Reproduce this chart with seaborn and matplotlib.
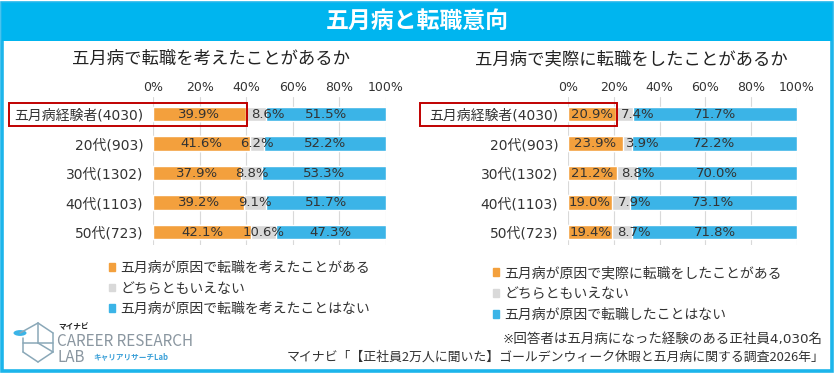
import numpy as np
import pandas as pd
import matplotlib.pyplot as plt
import seaborn as sns
from matplotlib.patches import Rectangle, Circle
from matplotlib.lines import Line2D

# ---- data ----
groups = ["五月病経験者(4030)", "20代(903)", "30代(1302)", "40代(1103)", "50代(723)"]

left_title = "五月病で転職を考えたことがあるか"
left_yes = [39.9, 41.6, 37.9, 39.2, 42.1]
left_mid = [8.6, 6.2, 8.8, 9.1, 10.6]
left_no = [51.5, 52.2, 53.3, 51.7, 47.3]
left_legend = ["五月病が原因で転職を考えたことがある", "どちらともいえない", "五月病が原因で転職を考えたことはない"]

right_title = "五月病で実際に転職をしたことがあるか"
right_yes = [20.9, 23.9, 21.2, 19.0, 19.4]
right_mid = [7.4, 3.9, 8.8, 7.9, 8.7]
right_no = [71.7, 72.2, 70.0, 73.1, 71.8]
right_legend = ["五月病が原因で実際に転職をしたことがある", "どちらともいえない", "五月病が原因で転職したことはない"]

ticks = [0, 20, 40, 60, 80, 100]
tick_labels = [f"{t}%" for t in ticks]

main_title = "五月病と転職意向"
note1 = "※回答者は五月病になった経験のある正社員4,030名"
note2 = "マイナビ「【正社員2万人に聞いた】ゴールデンウィーク休暇と五月病に関する調査2026年」"

ORANGE = "#F3A03D"
GRAY = "#D9D9D9"
BLUE = "#3BB4E7"
CYAN = "#00B5EF"
TXT = "#333333"

sns.set_style("white")
# wide latin digits like the original, CJK from Noto
plt.rcParams["font.family"] = ["DejaVu Sans", "Noto Sans CJK JP"]
CJK = ["Noto Sans CJK JP", "DejaVu Sans"]

W, H = 834, 375
fig = plt.figure(figsize=(W / 100, H / 100), dpi=100)


def fx(x):
    return x / W


def fy(y):
    return 1 - y / H


# frame and title band
fig.patches.append(Rectangle((fx(2), fy(371)), fx(830), 368 / H, transform=fig.transFigure,
                             fill=False, edgecolor="#1CB5EB", lw=2.6))
fig.patches.append(Rectangle((fx(2), fy(41)), fx(830), 38 / H, transform=fig.transFigure,
                             facecolor=CYAN, edgecolor="none"))
fig.text(0.5, fy(21), main_title, color="white", fontsize=16.5, fontweight="bold",
         ha="center", va="center", family=CJK)


def draw(rect, title, title_x, yes, mid, no, legend_labels, leg_pos, leg_space,
         mid_shift, box_left):
    ax = fig.add_axes(rect)
    df = pd.DataFrame({"group": groups, "yes": yes, "mid": mid, "no": no})
    df["c1"] = df["yes"]
    df["c2"] = df["yes"] + df["mid"]
    df["c3"] = df["c2"] + df["no"]
    sns.barplot(data=df, x="c3", y="group", color=BLUE, orient="h", width=0.5,
                saturation=1, ax=ax, zorder=2)
    sns.barplot(data=df, x="c2", y="group", color=GRAY, orient="h", width=0.5,
                saturation=1, ax=ax, zorder=2)
    sns.barplot(data=df, x="c1", y="group", color=ORANGE, orient="h", width=0.5,
                saturation=1, ax=ax, zorder=2)
    ax.set_xlim(0, 100)
    ax.set_ylim(4.44, -0.58)
    ax.set_xlabel("")
    ax.set_ylabel("")
    ax.set_xticks(ticks)
    ax.set_xticklabels(tick_labels)
    ax.xaxis.tick_top()
    ax.tick_params(axis="x", length=0, pad=2, labelsize=9, colors=TXT)
    ax.tick_params(axis="y", length=0, pad=7, labelsize=10, colors=TXT)
    ax.grid(axis="x", color="#D9D9D9", lw=0.8, zorder=0)
    for s in ax.spines.values():
        s.set_visible(False)
    for i, r in df.iterrows():
        ax.text(r["yes"] / 2, i, f"{r['yes']:.1f}%", ha="center", va="center",
                fontsize=9.5, color=TXT, zorder=3)
        ax.text(r["c1"] + r["mid"] / 2 + mid_shift[i], i, f"{r['mid']:.1f}%", ha="center",
                va="center", fontsize=9.5, color=TXT, zorder=3)
        ax.text(r["c2"] + r["no"] / 2, i, f"{r['no']:.1f}%", ha="center", va="center",
                fontsize=9.5, color=TXT, zorder=3)
    # red highlight box around the first row
    ax.add_patch(Rectangle((box_left, -0.39), df["yes"][0] + 0.4 - box_left, 0.78,
                           fill=False, edgecolor="#C00000", lw=1.4, clip_on=False, zorder=4))
    fig.text(title_x, fy(59), title, fontsize=12.5, color="#222222", ha="center",
             va="center", family=CJK)
    handles = [Rectangle((0, 0), 1, 1, color=c) for c in (ORANGE, GRAY, BLUE)]
    fig.legend(handles, legend_labels, loc="upper left", bbox_to_anchor=leg_pos,
               frameon=False, handlelength=0.45, handleheight=0.45,
               handletextpad=0.35, labelspacing=leg_space, borderpad=0, borderaxespad=0,
               labelcolor=TXT, prop={"family": CJK, "size": 10})
    return ax


draw([fx(153), fy(245), fx(233), 148 / H], left_title, fx(211),
     left_yes, left_mid, left_no, left_legend, (fx(109), fy(261)), 0.47,
     [5, 0, 0, 0, 0], -62)
draw([fx(568), fy(245), fx(229), 148 / H], right_title, fx(631),
     right_yes, right_mid, right_no, right_legend, (fx(493), fy(266)), 0.5,
     [6, 7, 5, 6, 5], -64.5)

fig.text(fx(823), fy(339), note1, fontsize=9.7, color=TXT, ha="right", va="center")
fig.text(fx(825), fy(357), note2, fontsize=9.3, color=TXT, ha="right", va="center",
         family=CJK)

# logo
fig.patches.append(Circle((fx(20), fy(333)), 6.5 / W, transform=fig.transFigure,
                          facecolor=BLUE, edgecolor="none"))
pts = [(20, 333, 38, 323), (38, 323, 53, 333), (53, 333, 53, 352), (53, 352, 38, 362),
       (38, 362, 23, 352), (23, 352, 23, 338), (38, 323, 38, 343), (23, 343, 53, 343),
       (38, 343, 53, 352)]
for x0, y0, x1, y1 in pts:
    fig.lines.append(Line2D([fx(x0), fx(x1)], [fy(y0), fy(y1)], transform=fig.transFigure,
                            color="#8AA8B8", lw=1.1))
fig.text(fx(58), fy(327), "マイナビ", fontsize=5.5, fontweight="bold", color="#222222",
         ha="left", va="center", family=CJK)
fig.text(fx(57), fy(341), "CAREER RESEARCH", fontsize=11, color="#8A96A0",
         ha="left", va="center", family=CJK)
fig.text(fx(57), fy(357), "LAB", fontsize=11, color="#8A96A0", ha="left", va="center",
         family=CJK)
fig.text(fx(93), fy(357), "キャリアリサーチLab", fontsize=5.5, fontweight="bold",
         color="#3BA0D8", ha="left", va="center", family=CJK)

fig.savefig("out.png", dpi=100)
